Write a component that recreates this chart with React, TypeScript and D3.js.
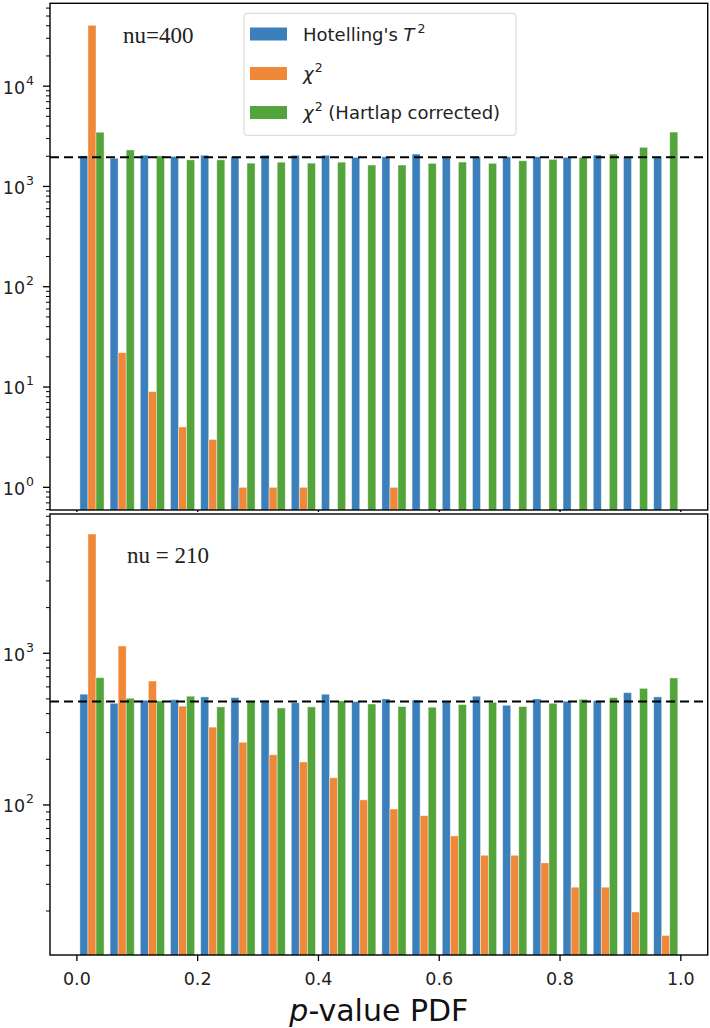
import * as d3 from "d3";

// bin starts (20 bins of width 0.05)
const binStarts = [
  0.0, 0.05, 0.1, 0.15, 0.2, 0.25, 0.3, 0.35, 0.4, 0.45,
  0.5, 0.55, 0.6, 0.65, 0.7, 0.75, 0.8, 0.85, 0.9, 0.95,
];
const xTicks = [0.0, 0.2, 0.4, 0.6, 0.8, 1.0];

// top panel, nu=400
const hotellingTop = [
  2017, 1910, 2047, 1987, 2047, 1987, 2047, 2047, 2047, 1950,
  1977, 2104, 1977, 1977, 1977, 1977, 1950, 2056, 1977, 1977,
];
const chi2Top = [40400, 22, 9, 4, 3, 1, 1, 1, 0, 0, 1, 0, 0, 0, 0, 0, 0, 0, 0, 0];
const hartlapTop = [
  3470, 2310, 2017, 1842, 1842, 1707, 1745, 1707, 1745, 1634,
  1634, 1700, 1750, 1700, 1803, 1862, 1950, 2104, 2454, 3485,
];
const expectedTop = 1955;
const yTicksTop = [0, 1, 2, 3, 4];

// bottom panel, nu = 210
const hotellingBottom = [
  537, 468, 490, 494, 516, 510, 490, 472, 537, 480,
  500, 492, 483, 521, 454, 500, 483, 487, 550, 516,
];
const chi2Bottom = [
  6110, 1117, 656, 448, 326, 259, 214, 192, 151, 108,
  94, 85, 62.5, 46.6, 46.6, 41.5, 28.7, 28.7, 19.7, 13.8,
];
const hartlapBottom = [
  690, 505, 485, 521, 443, 483, 436, 443, 485, 463,
  445, 441, 459, 475, 445, 468, 497, 510, 587, 687,
];
const expectedBottom = 480;
const yTicksBottom = [2, 3];

const colors = ["#3b80ba", "#f0883a", "#54a43c"];
const sans = "DejaVu Sans, sans-serif";
const serif = "Liberation Serif, Times New Roman, serif";

const left = 50;
const right = 707.7;
const binWidth = 0.05;
const barWidth = (binWidth * 0.8) / 3;

const x = d3.scaleLinear().domain([-0.0445, 1.0445]).range([left, right]);

interface PanelProps {
  top: number;
  bottom: number;
  logMin: number;
  logMax: number;
  series: number[][];
  expected: number;
  yTicks: number[];
  label: string;
  labelX: number;
  labelY: number;
  showXLabels: boolean;
  clipId: string;
}

const Panel = ({
  top, bottom, logMin, logMax, series, expected, yTicks, label, labelX, labelY, showXLabels, clipId,
}: PanelProps) => {
  const y = d3.scaleLog().domain([10 ** logMin, 10 ** logMax]).range([bottom, top]);
  const minor: number[] = [];
  for (let e = Math.floor(logMin); e <= Math.ceil(logMax); e++) {
    for (let m = 2; m <= 9; m++) {
      const v = m * 10 ** e;
      if (Math.log10(v) >= logMin && Math.log10(v) <= logMax) minor.push(v);
    }
  }
  return (
    <g>
      <clipPath id={clipId}>
        <rect x={left} y={top} width={right - left} height={bottom - top} />
      </clipPath>
      <g clipPath={`url(#${clipId})`}>
        {series.map((vals, k) =>
          vals.map((v, i) =>
            v > 0 ? (
              <rect
                key={`${k}-${i}`}
                x={x(binStarts[i] + binWidth * 0.1 + k * barWidth)}
                y={y(v)}
                width={x(barWidth) - x(0)}
                height={bottom - y(v) + 2}
                fill={colors[k]}
                stroke="#ffffff"
                strokeOpacity={0.5}
                strokeWidth={0.8}
              />
            ) : null
          )
        )}
        <line
          x1={left}
          x2={right}
          y1={y(expected)}
          y2={y(expected)}
          stroke="#000"
          strokeWidth={2}
          strokeDasharray="9,5"
        />
      </g>
      {/* frame */}
      <rect x={left} y={top} width={right - left} height={bottom - top} fill="none" stroke="#000" strokeWidth={1.4} />
      {/* y ticks */}
      {minor.map((v) => (
        <line key={v} x1={left - 4} x2={left} y1={y(v)} y2={y(v)} stroke="#000" strokeWidth={1} />
      ))}
      {yTicks.map((e) => (
        <g key={e}>
          <line x1={left - 7} x2={left} y1={y(10 ** e)} y2={y(10 ** e)} stroke="#000" strokeWidth={1.3} />
          <text x={left - 16} y={y(10 ** e) + 7.4} textAnchor="end" fontFamily={sans} fontSize={17.5} fill="#222">
            10
            <tspan fontSize={12.5} dx={1} dy={-9}>{e}</tspan>
          </text>
        </g>
      ))}
      {/* x ticks */}
      {xTicks.map((t) => (
        <g key={t}>
          <line x1={x(t)} x2={x(t)} y1={bottom} y2={bottom + (showXLabels ? 6 : 2)} stroke="#000" strokeWidth={1.3} />
          {showXLabels && (
            <text x={x(t)} y={bottom + 30} textAnchor="middle" fontFamily={sans} fontSize={17.5} fill="#222">
              {t.toFixed(1)}
            </text>
          )}
        </g>
      ))}
      <text x={labelX} y={labelY} fontFamily={serif} fontSize={23} fill="#222">
        {label}
      </text>
    </g>
  );
};

const legendItems = [
  { key: "h", color: colors[0] },
  { key: "c", color: colors[1] },
  { key: "hc", color: colors[2] },
];

const Legend = () => {
  const rowY = [34, 73.5, 112.5];
  return (
    <g>
      <rect x={244} y={13.3} width={272} height={122} rx={3} fill="#fff" fillOpacity={0.85} stroke="#d6d6d6" strokeWidth={1} />
      {legendItems.map((it, i) => (
        <rect key={it.key} x={250} y={rowY[i] - 6.5} width={37} height={13} fill={it.color} />
      ))}
      <text x={303} y={rowY[0] + 6.5} fontFamily={sans} fontSize={18} fill="#222">
        Hotelling's <tspan fontStyle="italic">T</tspan>
        <tspan fontSize={12.5} dx={3} dy={-8}>2</tspan>
      </text>
      <text x={303} y={rowY[1] + 6.5} fontFamily={sans} fontSize={18} fill="#222">
        <tspan fontStyle="italic">χ</tspan>
        <tspan fontSize={12.5} dx={1} dy={-8}>2</tspan>
      </text>
      <text x={303} y={rowY[2] + 6.5} fontFamily={sans} fontSize={18} fill="#222">
        <tspan fontStyle="italic">χ</tspan>
        <tspan fontSize={12.5} dx={1} dy={-8}>2</tspan>
        <tspan dy={8}> (Hartlap corrected)</tspan>
      </text>
    </g>
  );
};

export default function App() {
  return (
    <svg
      width={710}
      height={1028}
      style={{ position: "fixed", left: 0, top: 0, background: "#fff" }}
    >
      <rect x={0} y={0} width={710} height={1028} fill="#fff" />
      <Panel
        top={3.3}
        bottom={510}
        logMin={-0.226}
        logMax={4.826}
        series={[hotellingTop, chi2Top, hartlapTop]}
        expected={expectedTop}
        yTicks={yTicksTop}
        label="nu=400"
        labelX={123}
        labelY={43}
        showXLabels={false}
        clipId="clipTop"
      />
      <Legend />
      <Panel
        top={514}
        bottom={955}
        logMin={1.011}
        logMax={3.918}
        series={[hotellingBottom, chi2Bottom, hartlapBottom]}
        expected={expectedBottom}
        yTicks={yTicksBottom}
        label="nu = 210"
        labelX={127}
        labelY={562.5}
        showXLabels={true}
        clipId="clipBottom"
      />
      <text x={(left + right) / 2} y={1021} textAnchor="middle" fontFamily={sans} fontSize={30} fill="#111">
        <tspan fontStyle="italic">p</tspan>-value PDF
      </text>
    </svg>
  );
}
